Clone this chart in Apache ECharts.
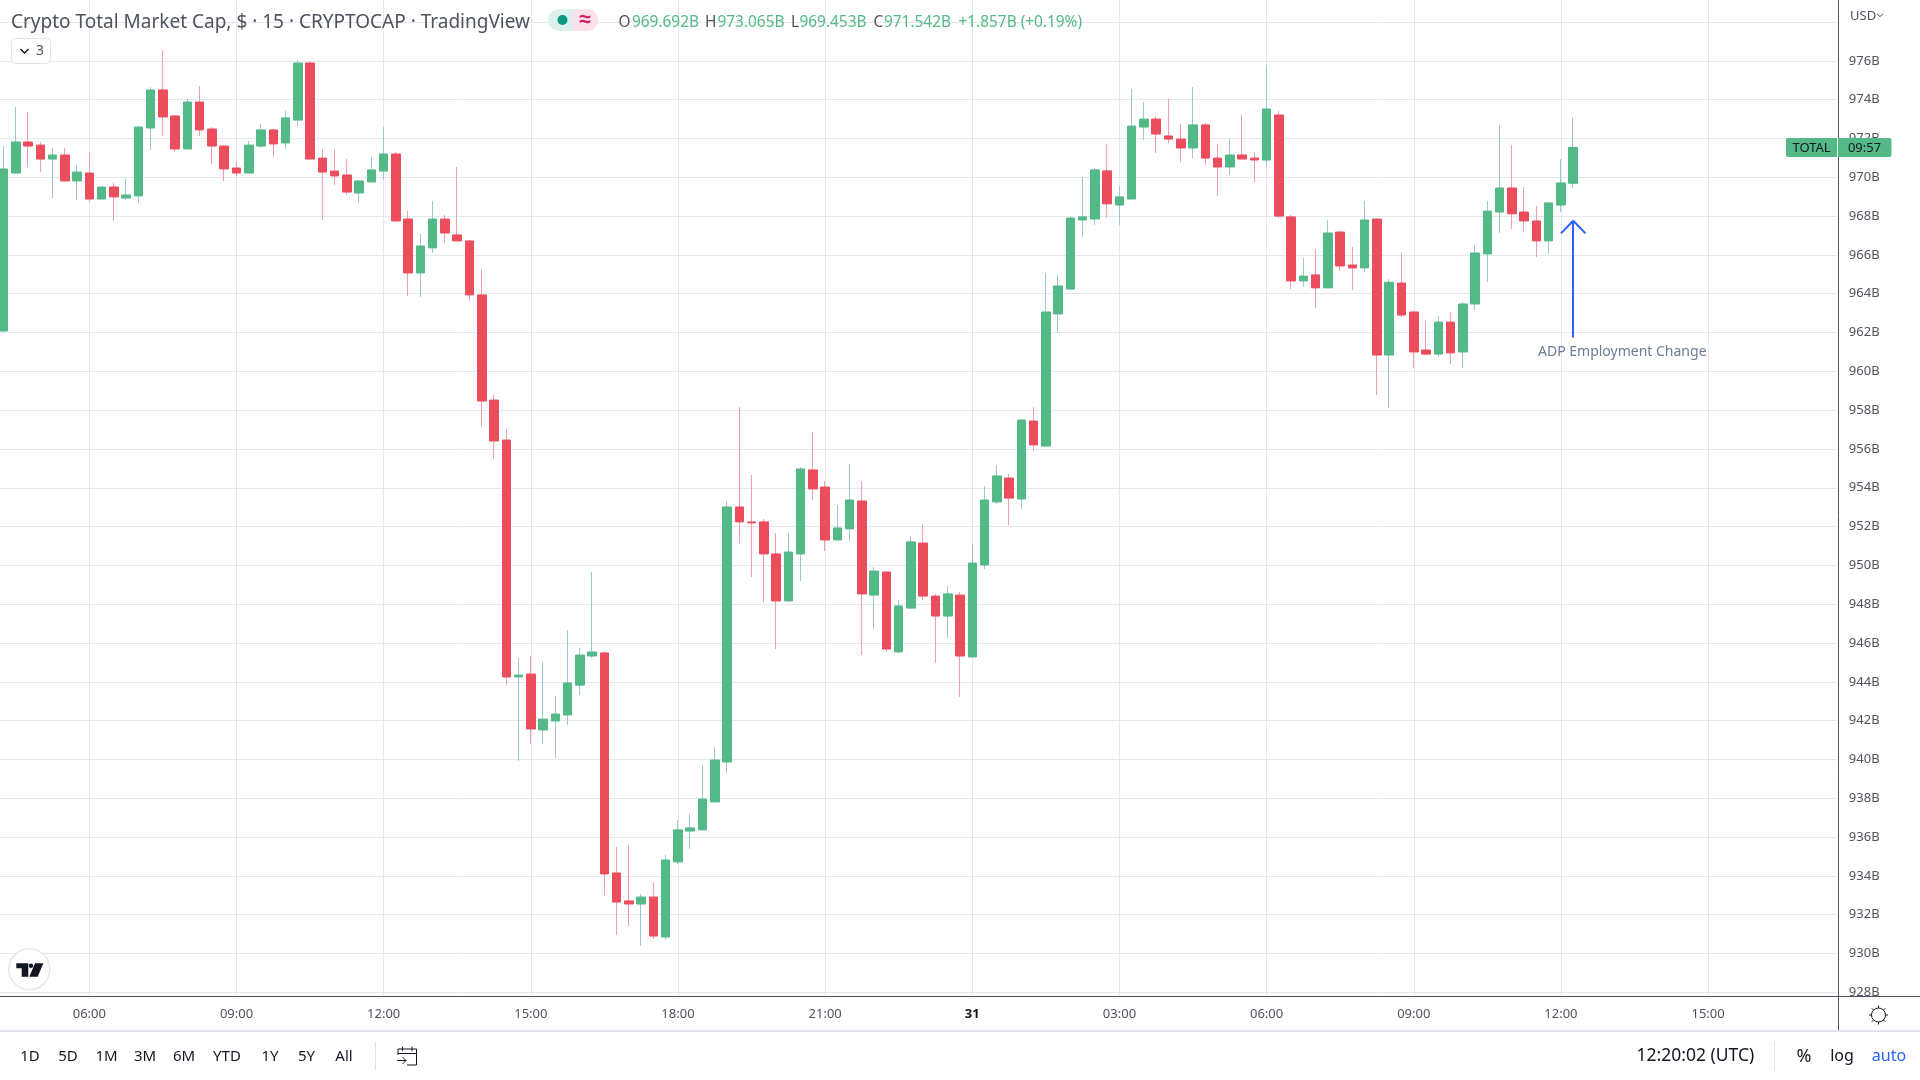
<!DOCTYPE html>
<html>
<head>
<meta charset="utf-8">
<title>Crypto Total Market Cap</title>
<style>
html, body { margin: 0; padding: 0; background: #fff; }
#chart { width: 1920px; height: 1080px; }
</style>
<script src="https://cdn.jsdelivr.net/npm/echarts@6/dist/echarts.min.js"></script>
</head>
<body>
<div id="chart"></div>
<script>
// 15 minute candles, first one is 04:15 on the 30th
const opens = [962.08,970.22,971.82,971.66,970.94,971.15,969.81,970.22,968.88,969.50,968.93,969.04,972.54,974.50,973.16,971.46,973.88,972.49,971.61,970.48,970.22,971.61,972.44,971.77,972.95,975.89,970.99,970.32,970.12,969.19,969.76,970.32,971.20,967.85,965.07,966.36,967.85,967.03,966.72,963.94,958.52,956.46,944.25,944.40,941.52,941.98,942.29,943.83,945.33,945.49,934.15,932.71,932.55,932.91,930.85,934.72,936.31,936.37,937.81,939.87,953.01,952.24,952.24,950.59,948.17,950.59,954.92,954.04,951.31,951.88,953.32,948.47,949.66,945.54,947.80,951.15,948.42,947.39,948.47,945.28,950.02,953.27,954.50,953.42,957.44,956.15,962.96,964.24,967.80,967.85,970.33,968.57,968.88,972.59,973.00,972.13,971.97,971.51,972.70,970.99,970.53,971.15,970.99,970.89,973.21,967.96,964.66,964.97,964.30,967.18,965.48,965.33,967.85,960.84,964.55,963.06,961.10,960.89,962.54,961.00,963.47,966.05,968.21,969.45,968.21,967.75,966.72,968.57,969.692]
const closes = [970.43,971.82,971.61,970.94,971.15,969.81,970.27,968.88,969.50,968.99,969.09,972.59,974.50,973.11,971.46,973.88,972.44,971.61,970.43,970.22,971.66,972.44,971.72,973.06,975.89,970.94,970.27,970.07,969.24,969.81,970.38,971.20,967.75,965.07,966.46,967.85,967.13,966.72,963.94,958.47,956.41,944.25,944.35,941.57,942.08,942.34,943.94,945.38,945.54,934.10,932.65,932.55,932.91,930.90,934.82,936.37,936.47,937.96,939.97,953.01,952.24,952.19,950.59,948.17,950.69,954.97,953.94,951.31,951.93,953.37,948.53,949.71,945.69,947.91,951.21,948.42,947.39,948.53,945.33,950.12,953.37,954.61,953.47,957.49,956.21,963.06,964.40,967.90,967.96,970.38,968.63,968.99,972.64,973.00,972.23,971.97,971.51,972.70,970.99,970.53,971.15,970.94,970.89,973.52,968.00,964.66,964.91,964.30,967.13,965.43,965.33,967.80,960.84,964.59,962.90,961.00,960.89,962.54,960.95,963.47,966.10,968.26,969.45,968.12,967.75,966.72,968.68,969.71,971.542]
const lows = [962.03,970.17,970.53,970.27,968.93,969.81,968.83,968.73,968.88,967.75,968.83,968.68,971.41,972.13,971.30,971.46,972.13,970.69,969.81,970.07,970.22,971.51,971.05,971.46,972.64,970.94,967.80,969.60,969.09,968.68,969.76,969.86,967.70,963.88,963.83,966.10,966.61,966.72,963.63,957.13,955.48,943.83,939.92,940.80,940.80,940.07,941.78,943.32,945.23,933.01,930.95,931.42,930.39,930.75,930.70,934.61,935.39,936.37,937.81,939.30,951.15,949.40,948.11,945.69,948.11,949.20,953.37,950.74,951.31,951.26,945.38,946.72,945.54,945.49,947.80,948.22,944.97,946.26,943.22,945.28,949.81,953.16,952.08,952.91,955.89,956.15,961.98,964.24,966.92,967.54,967.90,967.54,968.88,971.92,971.25,971.77,970.79,970.99,970.63,969.04,970.12,970.94,969.76,970.53,967.90,964.24,964.35,963.26,964.30,965.17,964.19,965.12,958.78,958.11,962.80,960.17,960.84,960.74,960.38,960.17,963.16,964.60,967.13,967.34,967.23,965.89,966.05,968.21,969.453]
const highs = [971.61,973.62,973.37,971.82,971.51,971.51,970.63,971.25,969.50,969.71,969.96,972.64,974.65,976.56,973.21,974.04,974.70,972.59,971.66,970.84,971.87,972.75,972.49,973.42,976.05,975.99,971.46,971.46,970.94,969.86,971.05,972.59,971.30,968.26,967.08,968.78,968.06,970.53,966.77,965.27,958.78,957.03,945.23,945.33,945.02,943.27,946.67,945.74,949.66,945.59,935.49,935.59,933.07,933.69,935.08,936.88,937.19,939.71,940.64,953.32,958.16,954.66,952.39,951.67,951.67,955.07,956.88,954.35,953.11,955.23,954.35,949.92,949.71,948.22,951.52,952.13,948.53,948.94,948.63,951.10,954.09,955.17,954.71,957.54,958.16,965.07,964.97,967.96,970.02,970.48,971.72,969.55,974.55,973.88,973.16,974.04,972.75,974.65,972.80,971.72,971.97,973.21,971.30,975.79,973.42,968.06,965.84,966.30,967.80,967.23,966.41,968.78,967.90,964.76,966.10,963.11,962.59,962.85,963.06,963.57,966.51,968.78,972.70,971.67,969.50,968.52,968.68,970.94,973.065]

// bar slots on the time axis, past the last candle it stays empty up to the price scale
const slotCount = 150
const tickSlots = [7,19,31,43,55,67,79,91,103,115,127,139]
const tickLabels = ['06:00','09:00','12:00','15:00','18:00','21:00','31','03:00','06:00','09:00','12:00','15:00']
const priceMin = 928
const priceMax = 980
const priceStep = 2

// ADP note, in bar slot and price
const noteSlot = 128
const noteFrom = 961.75
const noteTo = 967.76
const noteHead = 967.11
const noteLabelSlot = 132
const noteLabelPrice = 961.0

const font = '"Noto Sans", sans-serif'
const green = '#53b987'
const red = '#eb4d5c'
const greenWick = '#9cc9cc'
const redWick = '#f59daa'
const gridColor = '#e1e8ef'
const axisColor = '#50535e'
const inkColor = '#131722'

const categories = []
for( let i = 0; i < slotCount; i++ ) categories.push( String( i ) )

const wickData = opens.map( ( o, i ) => [ o, closes[ i ], lows[ i ], highs[ i ] ] )
const bodyData = opens.map( ( o, i ) => [ o, closes[ i ], Math.min( o, closes[ i ] ), Math.max( o, closes[ i ] ) ] )
const isTick = i => tickSlots.includes( i )

const text = ( x, y, str, size, fill, align, extra ) => ( {
	type: 'text', z: 20, silent: true,
	style: Object.assign( { x, y, text: str, fontFamily: font, fontSize: size, fill, align: align || 'left', verticalAlign: 'middle' }, extra ),
} )
const line = ( x1, y1, x2, y2, stroke, lineWidth, z ) => ( {
	type: 'line', z: z || 10, silent: true,
	shape: { x1, y1, x2, y2 },
	style: { stroke, lineWidth: lineWidth || 1 },
} )

// gear on the corner of the scales
const gearRays = []
for( let a = 0; a < 8; a++ ) {
	const t = a * Math.PI / 4
	gearRays.push( line( 1878.5 + Math.cos( t ) * 7, 1015 + Math.sin( t ) * 7, 1878.5 + Math.cos( t ) * 9.5, 1015 + Math.sin( t ) * 9.5, inkColor, 1 ) )
}

const ranges = [ [ '1D', 30 ], [ '5D', 68 ], [ '1M', 106.5 ], [ '3M', 145 ], [ '6M', 184 ], [ 'YTD', 227 ], [ '1Y', 270 ], [ '5Y', 306.5 ], [ 'All', 344 ] ]

const chrome = [
	// frame
	line( 1838.5, 0, 1838.5, 1031, axisColor, 1 ),
	line( 0, 996.5, 1920, 996.5, axisColor, 1 ),
	line( 0, 1031, 1920, 1031, '#e0e3eb', 2 ),
	line( 375.5, 1042, 375.5, 1070, '#e0e3eb', 1 ),
	line( 1774.5, 1042, 1774.5, 1070, '#e0e3eb', 1 ),

	// legend row
	text( 11, 22.5, 'Crypto Total Market Cap, $ · 15 · CRYPTOCAP · TradingView', 19, '#50535e' ),
	{ type: 'rect', z: 11, silent: true, shape: { x: 548, y: 9, width: 25, height: 22, r: [ 11, 0, 0, 11 ] }, style: { fill: '#dcf2ee' } },
	{ type: 'rect', z: 11, silent: true, shape: { x: 573, y: 9, width: 25, height: 22, r: [ 0, 11, 11, 0 ] }, style: { fill: '#fbe1e9' } },
	{ type: 'circle', z: 12, silent: true, shape: { cx: 562.5, cy: 20, r: 5 }, style: { fill: '#089981' } },
	text( 585, 20.5, '≈', 21, '#d81b60', 'center', { fontWeight: 'bold' } ),
	text( 618.5, 22.5, 'O', 15.4, axisColor ),
	text( 632, 22.5, '969.692B', 15.4, green ),
	text( 705, 22.5, 'H', 15.4, axisColor ),
	text( 717.5, 22.5, '973.065B', 15.4, green ),
	text( 791, 22.5, 'L', 15.4, axisColor ),
	text( 799.5, 22.5, '969.453B', 15.4, green ),
	text( 873.5, 22.5, 'C', 15.4, axisColor ),
	text( 884, 22.5, '971.542B', 15.4, green ),
	text( 958.5, 22.5, '+1.857B (+0.19%)', 15.4, green ),

	// collapsed indicators
	{ type: 'rect', z: 11, silent: true, shape: { x: 11.5, y: 38.5, width: 39, height: 25, r: 4 }, style: { fill: '#fff', stroke: '#e0e3eb' } },
	{ type: 'polyline', z: 12, silent: true, shape: { points: [ [ 20.5, 49 ], [ 24.5, 53 ], [ 28.5, 49 ] ] }, style: { fill: null, stroke: inkColor, lineWidth: 1.5 } },
	text( 40, 51, '3', 14, axisColor, 'center' ),

	// scale header and last price tag
	text( 1850, 16.5, 'USD', 13, axisColor ),
	{ type: 'polyline', z: 12, silent: true, shape: { points: [ [ 1877, 14 ], [ 1880, 16.5 ], [ 1883, 14 ] ] }, style: { fill: null, stroke: axisColor, lineWidth: 1 } },
	{ type: 'rect', z: 15, silent: true, shape: { x: 1786, y: 138, width: 105.5, height: 19, r: 2 }, style: { fill: green } },
	line( 1837.5, 138, 1837.5, 157, '#ffffff', 1, 16 ),
	text( 1811.5, 148, 'TOTAL', 13, inkColor, 'center' ),
	text( 1864.5, 148, '09:57', 13, inkColor, 'center' ),

	// logo
	{ type: 'circle', z: 11, silent: true, shape: { cx: 29.3, cy: 969.3, r: 20.5 }, style: { fill: '#fff', stroke: '#e8e8e8', lineWidth: 1.5 } },
	{ type: 'polygon', z: 12, silent: true, shape: { points: [ [ 16.3, 963.3 ], [ 28.3, 963.3 ], [ 28.3, 976.7 ], [ 21.7, 976.7 ], [ 21.7, 968.3 ], [ 16.3, 968.3 ] ] }, style: { fill: inkColor } },
	{ type: 'circle', z: 12, silent: true, shape: { cx: 31, cy: 965.7, r: 2.2 }, style: { fill: inkColor } },
	{ type: 'polygon', z: 12, silent: true, shape: { points: [ [ 35, 963.3 ], [ 43.3, 963.3 ], [ 37.7, 976.7 ], [ 29.3, 976.7 ] ] }, style: { fill: inkColor } },

	// bottom toolbar
	{ type: 'polyline', z: 12, silent: true, shape: { points: [ [ 398, 1055 ], [ 398, 1049 ], [ 416.5, 1049 ], [ 416.5, 1065 ], [ 407, 1065 ] ] }, style: { fill: null, stroke: inkColor, lineWidth: 1 } },
	line( 398, 1053.5, 416.5, 1053.5, inkColor, 1, 12 ),
	line( 402.5, 1046.5, 402.5, 1051, inkColor, 1, 12 ),
	line( 412, 1046.5, 412, 1051, inkColor, 1, 12 ),
	line( 397, 1060.5, 406, 1060.5, inkColor, 1, 12 ),
	{ type: 'polyline', z: 12, silent: true, shape: { points: [ [ 402.5, 1057 ], [ 406, 1060.5 ], [ 402.5, 1064 ] ] }, style: { fill: null, stroke: inkColor, lineWidth: 1 } },
	text( 1636.5, 1056.5, '12:20:02 (UTC)', 17.5, inkColor ),
	text( 1804, 1056.5, '%', 18, inkColor, 'center' ),
	text( 1842, 1056.5, 'log', 16, inkColor, 'center' ),
	text( 1889, 1056.5, 'auto', 16, '#2962ff', 'center' ),
	{ type: 'circle', z: 11, silent: true, shape: { cx: 1878.5, cy: 1015, r: 7 }, style: { fill: '#fff', stroke: inkColor, lineWidth: 1 } },
	...gearRays,
	...ranges.map( r => text( r[ 1 ], 1056.5, r[ 0 ], 15, inkColor, 'center' ) ),
]

const chart = echarts.init( document.getElementById( 'chart' ), null, { renderer: 'canvas' } )

chart.setOption( {
	animation: false,
	textStyle: { fontFamily: font },
	grid: { left: -2.64, width: 1839.5, top: -16.75, height: 1009.06, outerBoundsMode: 'none' },
	xAxis: {
		type: 'category',
		data: categories,
		boundaryGap: true,
		offset: 4,
		z: 3,
		axisLine: { show: false },
		axisTick: {
			show: true,
			inside: true,
			length: 4,
			alignWithLabel: true,
			interval: i => isTick( i ),
			lineStyle: { color: gridColor },
		},
		axisLabel: {
			show: true,
			margin: 11,
			interval: i => isTick( i ),
			fontFamily: font,
			fontSize: 13,
			color: axisColor,
			formatter: ( v, i ) => {
				const at = tickSlots.indexOf( i )
				if( at < 0 ) return ''
				return tickLabels[ at ] === '31' ? '{day|31}' : tickLabels[ at ]
			},
			rich: { day: { fontFamily: font, fontSize: 13, fontWeight: 'bold', color: inkColor } },
		},
		splitLine: {
			show: true,
			alignWithLabel: true,
			interval: i => isTick( i ),
			lineStyle: { color: gridColor, width: 1 },
		},
	},
	yAxis: {
		type: 'value',
		position: 'right',
		min: priceMin,
		max: priceMax,
		interval: priceStep,
		scale: true,
		axisLine: { show: false },
		axisTick: { show: false },
		axisLabel: {
			margin: 12,
			fontFamily: font,
			fontSize: 13,
			color: axisColor,
			formatter: v => v >= 978 ? '' : v + 'B',
		},
		splitLine: { show: true, lineStyle: { color: gridColor, width: 1 } },
	},
	series: [
		{
			name: 'TOTAL wicks',
			type: 'candlestick',
			data: wickData,
			barWidth: 1,
			z: 3,
			itemStyle: { color: greenWick, color0: redWick, borderColor: greenWick, borderColor0: redWick, borderWidth: 1 },
			markLine: {
				silent: true,
				symbol: [ 'none', 'none' ],
				label: { show: false },
				lineStyle: { color: '#2962ff', width: 2, type: 'solid' },
				data: [
					[ { coord: [ noteSlot, noteFrom ] }, { coord: [ noteSlot, noteTo ] } ],
					[ { coord: [ noteSlot - 1, noteHead ] }, { coord: [ noteSlot, noteTo ] } ],
					[ { coord: [ noteSlot + 1, noteHead ] }, { coord: [ noteSlot, noteTo ] } ],
				],
			},
			markPoint: {
				silent: true,
				symbolSize: 0,
				data: [ { coord: [ noteLabelSlot, noteLabelPrice ], value: 'ADP Employment Change' } ],
				label: { show: true, position: 'inside', formatter: 'ADP Employment Change', fontFamily: font, fontSize: 14, color: '#6b7c93' },
			},
		},
		{
			name: 'TOTAL',
			type: 'candlestick',
			data: bodyData,
			barWidth: 9,
			z: 4,
			itemStyle: { color: green, color0: red, borderColor: green, borderColor0: red, borderWidth: 1 },
		},
	],
	graphic: { elements: chrome },
} )
</script>
</body>
</html>
